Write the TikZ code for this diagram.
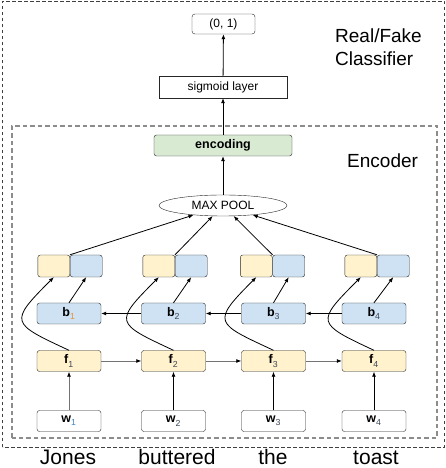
\documentclass[tikz,border=0pt]{standalone}
\usepackage{fontspec}
\setmainfont{Liberation Sans}
\usepackage{xcolor}
\usetikzlibrary{arrows.meta,positioning,shapes.geometric}
\definecolor{cellf}{HTML}{FFF2CC}
\definecolor{cellb}{HTML}{CFE2F3}
\definecolor{cellenc}{HTML}{D9EAD3}
\definecolor{subblue}{HTML}{3D85C6}
\definecolor{suborange}{HTML}{E69138}
\definecolor{subdark}{HTML}{3C4858}
\newcommand{\cellsub}[2]{\raisebox{-1.5pt}{\textsubscript{\textcolor{#1}{\mdseries #2}}}}
\tikzset{
  cell/.style={
    shape = rectangle,
    draw = black!85,
    rounded corners = 2.5pt,
    minimum width = 64pt,
    minimum height = 21pt,
    inner sep = 0pt,
    font = \fontsize{12.5}{14}\selectfont\bfseries
  },
  half/.style={
    shape = rectangle,
    draw = black!85,
    rounded corners = 2.5pt,
    minimum width = 32pt,
    minimum height = 22pt,
    inner sep = 0pt
  },
  plainbox/.style={
    shape = rectangle,
    draw = black!85,
    inner sep = 0pt,
    font = \fontsize{12}{14}\selectfont
  },
  link/.style={
    -{Latex[length=5pt,width=4pt]},
    line width = 0.8pt
  },
  graylink/.style={
    -{Latex[length=5pt,width=4pt,color=black]},
    draw = black!55,
    line width = 0.8pt
  },
  outerframe/.style={
    draw = black!75,
    line width = 0.9pt,
    dash pattern = on 3.5pt off 2.5pt
  },
  innerframe/.style={
    draw = black!45,
    line width = 1.3pt,
    dash pattern = on 4.5pt off 3pt
  },
  boxtitle/.style={
    font = \fontsize{19}{23}\selectfont,
    align = left,
    inner sep = 0pt
  },
  word/.style={
    font = \fontsize{21}{24}\selectfont,
    inner sep = 0pt
  }
}

\begin{document}
\begin{tikzpicture}[x=1pt,y=1pt]
    \useasboundingbox (0,0) rectangle (446,468);
    \def\yw{47}
    \def\yf{107}
    \def\yb{154.5}
    \def\yh{202}
        \draw[outerframe] (2.5,20.5) rectangle (444,467);
        \draw[innerframe] (12,30) rectangle (437,342);
        \foreach \i/\x/\p/\tx/\cw/\cb/\lc/\word in {1/69/70/68/subblue/suborange/black!55/Jones, 2/173.5/175/177/subdark/subdark/black/buttered, 3/273.5/272.5/273/subdark/subdark/black/the, 4/374/377/376/subdark/subdark/black/toast}{
        \node[cell, fill=white] (w\i) at (\x,\yw) {w\cellsub{\cw}{\i}};
        \node[cell, fill=cellf] (f\i) at (\x,\yf) {f\cellsub{subdark}{\i}};
        \node[cell, fill=cellb] (b\i) at (\x,\yb) {b\cellsub{\cb}{\i}};
        \node[half, fill=cellf, anchor=east] (hf\i) at (\p,\yh) {};
        \node[half, fill=cellb, anchor=west] (hb\i) at (\p,\yh) {};
        \node[word, anchor=base] (t\i) at (\tx,3) {\word};
        \draw[graylink, draw=\lc] (w\i) -- (f\i);
        \draw[link] (b\i.north) -- (hb\i.south);
        \draw[link] (f\i.north) to[out=155, in=225, looseness=2.2] (hf\i.south);
        }
        \foreach \i/\j in {1/2, 2/3, 3/4}{
        \draw[graylink] (f\i) -- (f\j);
        \draw[link] (b\j) -- (b\i);
        }
        \node[ellipse, draw=black!85, fill=white, minimum width=128pt, minimum height=21pt, inner sep=0pt, font=\fontsize{12}{14}\selectfont] (pool) at (223,262.5) {MAX POOL};
        \foreach \i in {1,...,4}{
        \draw[link] (hf\i.north east) -- (pool);
        }
        \node[cell, fill=cellenc, minimum width=138pt] (enc) at (223,322.5) {encoding};
        \node[plainbox, minimum width=128pt, minimum height=22pt] (sig) at (223,381) {sigmoid layer};
        \node[plainbox, rounded corners=3pt, minimum width=63pt, minimum height=20pt] (out) at (223.5,444) {(0, 1)};
        \draw[link] (pool) -- (enc);
        \draw[link] (enc) -- (sig);
        \draw[link] (sig) -- (out);
        \node[boxtitle, anchor=north west] (cls) at (335,439.5) {Real/Fake\\Classifier};
        \node[boxtitle, anchor=west] (encname) at (347,307) {Encoder};
    \end{tikzpicture}
\end{document}
